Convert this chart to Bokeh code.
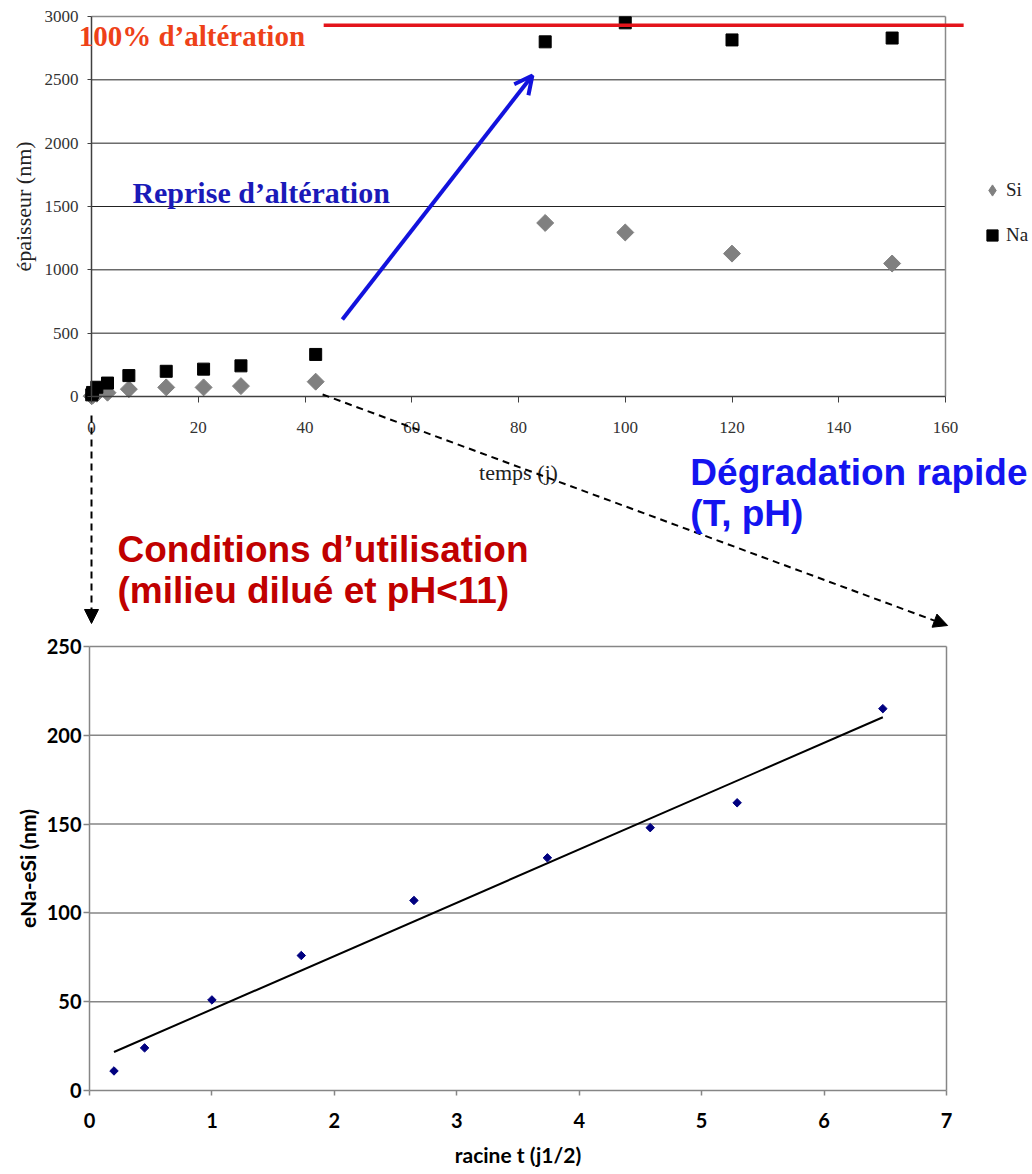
import numpy as np
from bokeh.plotting import figure
from bokeh.models import (Range1d, Label, Arrow, NormalHead, OpenHead, Legend,
                          FixedTicker)
from bokeh.layouts import column
from bokeh.embed import file_html
from bokeh.resources import INLINE

# ---------------- data: top chart ----------------
t_days = [0.04, 0.2, 1, 3, 7, 14, 21, 28, 42, 85, 100, 120, 150]
si_nm = [2, 8, 22, 30, 58, 72, 72, 82, 117, 1370, 1295, 1128, 1050]
na_nm = [13, 32, 73, 106, 165, 199, 216, 242, 332, 2800, 2950, 2815, 2830]
alteration_100_nm = 2930
top_x_ticks = [0, 20, 40, 60, 80, 100, 120, 140, 160]
top_y_ticks = [0, 500, 1000, 1500, 2000, 2500, 3000]

# ---------------- data: bottom chart ----------------
sqrt_t = [0.2, 0.45, 1.0, 1.73, 2.65, 3.74, 4.58, 5.29, 6.48]
diff_nm = [11, 24, 51, 76, 107, 131, 148, 162, 215]
bot_x_ticks = [0, 1, 2, 3, 4, 5, 6, 7]
bot_y_ticks = [0, 50, 100, 150, 200, 250]

SERIF = "Liberation Serif"
SANS = "Liberation Sans"
BSANS = "Lato"
BLUE_DARK = "#1a1ab8"
BLUE_ARROW = "#1212dd"
BLUE = "#1414f0"
DARKRED = "#c00000"
SI_GRAY = "#808080"

W, H1, H2 = 1032, 634, 540


def full_frame_ranges(px_a, px_b, a, b, size, flip=False):
    """Range so that value a sits at pixel px_a and b at px_b on a full-canvas frame."""
    k = (px_b - px_a) / (b - a)
    if not flip:
        return Range1d(a - px_a / k, a + (size - px_a) / k)
    # vertical: pixels measured from top
    return Range1d(a - (size - px_a) / (-k), a + px_a / (-k))


# ================= top figure (frame spans whole canvas) =================
x_rng1 = full_frame_ranges(91.0, 945.0, 0, 160, W)
y_rng1 = full_frame_ranges(396.0, 16.0, 0, 3000, H1, flip=True)

p1 = figure(width=W, height=H1, x_range=x_rng1, y_range=y_rng1, title=None,
            output_backend="svg", toolbar_location=None,
            min_border_left=0, min_border_right=0, min_border_top=0, min_border_bottom=0)
p1.background_fill_color = "white"
p1.border_fill_color = "white"
p1.outline_line_color = None
p1.xgrid.visible = False
p1.ygrid.visible = False

p1.xaxis.ticker = FixedTicker(ticks=top_x_ticks)
p1.yaxis.ticker = FixedTicker(ticks=top_y_ticks)
p1.xaxis.fixed_location = 0
p1.yaxis.fixed_location = 0
p1.xaxis.bounds = (top_x_ticks[0], top_x_ticks[-1])
p1.yaxis.bounds = (top_y_ticks[0], top_y_ticks[-1])

for ax in (p1.xaxis[0], p1.yaxis[0]):
    ax.axis_line_color = "#404040"
    ax.axis_line_width = 1.5
    ax.major_tick_line_color = "#404040"
    ax.major_tick_in = 0
    ax.minor_tick_line_color = None
    ax.major_label_text_font = SERIF
    ax.major_label_text_font_size = "17px"
    ax.major_label_text_color = "#333333"
    ax.axis_label_text_font = SERIF
    ax.axis_label_text_font_size = "22px"
    ax.axis_label_text_font_style = "normal"
    ax.axis_label_text_color = "#222222"

p1.xaxis.major_tick_out = 6
p1.xaxis.major_label_standoff = 19
p1.xaxis.axis_label = "temps (j)"
p1.xaxis.axis_label_standoff = 24
p1.yaxis.major_tick_out = 4
p1.yaxis.major_label_standoff = 9
p1.yaxis.axis_label = "épaisseur (nm)"
p1.yaxis.axis_label_standoff = 6

# grid lines and plot-area border
inner = top_y_ticks[1:-1]
p1.segment(x0=[top_x_ticks[0]] * len(inner), y0=inner,
           x1=[top_x_ticks[-1]] * len(inner), y1=inner,
           line_color="#222222", line_width=1)
p1.segment(x0=[top_x_ticks[0], top_x_ticks[-1]], y0=[top_y_ticks[-1], top_y_ticks[0]],
           x1=[top_x_ticks[-1], top_x_ticks[-1]], y1=[top_y_ticks[-1], top_y_ticks[-1]],
           line_color="#8a8a8a", line_width=1.5)

r_si = p1.scatter(t_days, si_nm, marker="square", angle=np.pi / 4, size=12,
                  fill_color=SI_GRAY, line_color=SI_GRAY)
r_na = p1.scatter(t_days, na_nm, marker="square", size=12,
                  fill_color="black", line_color="black")
# same Si series as a (hidden) diamond renderer, only used for the legend swatch
r_si_leg = p1.scatter(t_days, si_nm, marker="diamond", size=12,
                      fill_color=SI_GRAY, line_color=SI_GRAY, visible=False)

leg = Legend(items=[("Si", [r_si_leg]), ("Na", [r_na])], location=(978, 384),
             orientation="vertical")
leg.background_fill_alpha = 0
leg.border_line_color = None
leg.padding = 0
leg.margin = 0
leg.spacing = 15
leg.glyph_height = 30
leg.glyph_width = 28
leg.label_height = 30
leg.label_standoff = 0
leg.label_text_font = SERIF
leg.label_text_font_size = "19px"
leg.label_text_color = "#222222"
p1.add_layout(leg)

# red 100% line
p1.add_layout(Arrow(end=None, x_start=43.5, y_start=alteration_100_nm,
                    x_end=163.4, y_end=alteration_100_nm,
                    line_color="#e3141b", line_width=3.5))
p1.add_layout(Label(x=-2.4, y=2850, text="100% d\u2019altération", text_font=SERIF,
                    text_font_size="29px", text_font_style="bold", text_color="#ee4118",
                    text_baseline="alphabetic"))

# blue arrow + text
p1.add_layout(Arrow(end=OpenHead(line_color=BLUE_ARROW, line_width=4, size=18),
                    x_start=47.0, y_start=608, x_end=82.6, y_end=2534,
                    line_color=BLUE_ARROW, line_width=4))
p1.add_layout(Label(x=7.66, y=1610, text="Reprise d\u2019altération", text_font=SERIF,
                    text_font_size="30px", text_font_style="bold", text_color=BLUE_DARK,
                    text_baseline="alphabetic"))

# dashed arrows to bottom chart
p1.add_layout(Arrow(end=NormalHead(fill_color="black", line_color="black", size=14),
                    x_start=0, y_start=-150, x_end=0, y_end=-1792,
                    line_color="black", line_width=2, line_dash="7 5"))
p1.add_layout(Arrow(end=NormalHead(fill_color="black", line_color="black", size=14),
                    x_start=43.3, y_start=16, x_end=160.4, y_end=-1808,
                    line_color="black", line_width=2, line_dash="7 5"))

# annotations between charts
for txt, xx, yy, col in [("Dégradation rapide", 112.2, -600, BLUE),
                         ("(T, pH)", 112.2, -924, BLUE),
                         ("Conditions d\u2019utilisation", 4.87, -1208, DARKRED),
                         ("(milieu dilué et pH<11)", 4.87, -1531, DARKRED)]:
    p1.add_layout(Label(x=xx, y=yy, text=txt, text_font=SANS, text_font_size="37px",
                        text_font_style="bold", text_color=col,
                        text_baseline="alphabetic"))

# ================= bottom figure (frame spans whole canvas too) =================
x_rng2 = full_frame_ranges(89.0, 946.0, 0, 7, W)
y_rng2 = full_frame_ranges(456.0, 12.0, 0, 250, H2, flip=True)

p2 = figure(width=W, height=H2, x_range=x_rng2, y_range=y_rng2, title=None,
            output_backend="svg", toolbar_location=None,
            min_border_left=0, min_border_right=0, min_border_top=0, min_border_bottom=0)
p2.background_fill_color = "white"
p2.border_fill_color = "white"
p2.outline_line_color = None
p2.xgrid.visible = False
p2.ygrid.visible = False

p2.xaxis.ticker = FixedTicker(ticks=bot_x_ticks)
p2.yaxis.ticker = FixedTicker(ticks=bot_y_ticks)
p2.xaxis.fixed_location = 0
p2.yaxis.fixed_location = 0
p2.xaxis.bounds = (bot_x_ticks[0], bot_x_ticks[-1])
p2.yaxis.bounds = (bot_y_ticks[0], bot_y_ticks[-1])

GRAY2 = "#868686"
inner2 = bot_y_ticks[1:]
p2.segment(x0=[bot_x_ticks[0]] * len(inner2), y0=inner2,
           x1=[bot_x_ticks[-1]] * len(inner2), y1=inner2,
           line_color=GRAY2, line_width=1.5)
p2.segment(x0=[bot_x_ticks[-1]], y0=[bot_y_ticks[0]],
           x1=[bot_x_ticks[-1]], y1=[bot_y_ticks[-1]],
           line_color=GRAY2, line_width=1.5)

for ax in (p2.xaxis[0], p2.yaxis[0]):
    ax.axis_line_color = GRAY2
    ax.axis_line_width = 1.5
    ax.major_tick_line_color = GRAY2
    ax.major_tick_line_width = 1.5
    ax.major_tick_in = 0
    ax.minor_tick_line_color = None
    ax.major_label_text_font = BSANS
    ax.major_label_text_font_size = "20px"
    ax.major_label_text_font_style = "bold"
    ax.major_label_text_color = "black"
    ax.axis_label_text_font = BSANS
    ax.axis_label_text_font_size = "21px"
    ax.axis_label_text_font_style = "bold"
    ax.axis_label_text_color = "black"

p2.xaxis.major_tick_out = 5
p2.xaxis.major_label_standoff = 17
p2.xaxis.axis_label = "racine t (j1/2)"
p2.xaxis.axis_label_standoff = 11
p2.yaxis.major_tick_out = 6
p2.yaxis.major_label_standoff = 2
p2.yaxis.axis_label = "eNa-eSi (nm)"
p2.yaxis.axis_label_standoff = 4

coef = np.polyfit(sqrt_t, diff_nm, 1)
xs = [sqrt_t[0], sqrt_t[-1]]
p2.line(xs, list(np.polyval(coef, xs)), line_color="black", line_width=2)
p2.scatter(sqrt_t, diff_nm, marker="square", angle=np.pi / 4, size=6,
           fill_color="#000080", line_color="#000080")

layout = column(p1, p2, spacing=0)
open("out.html", "w").write(file_html(layout, INLINE))
